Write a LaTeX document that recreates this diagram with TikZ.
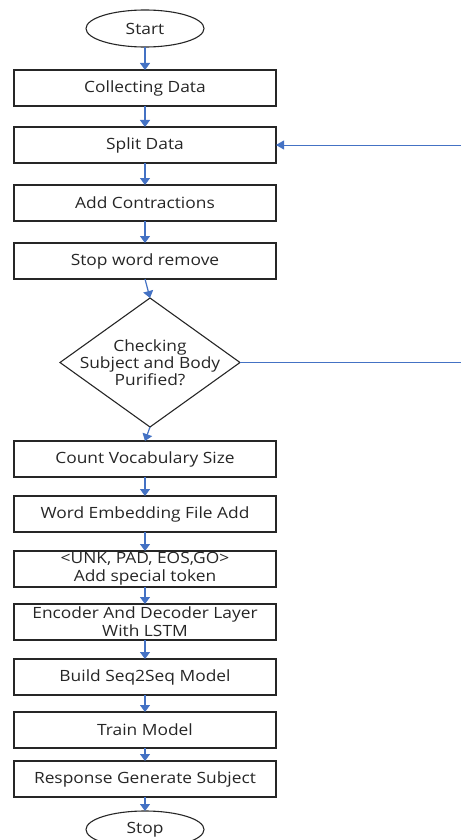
\documentclass[tikz,border=0pt]{standalone}
\usepackage{fontspec}
\setmainfont{Open Sans}[FakeStretch=1.12]
\usetikzlibrary{arrows.meta,positioning,shapes.geometric}
\definecolor{flowblue}{RGB}{68,114,196}

\begin{document}
\begin{tikzpicture}[
    x=1pt, y=1pt,
    node distance=19pt,
    font=\fontsize{15.5}{18}\selectfont,
    box/.style={draw=black!85, line width=1.1pt, text=black!85, align=center, minimum width=262pt, minimum height=36pt, inner sep=1pt, outer sep=0pt},
    term/.style={draw=black!85, line width=1.1pt, text=black!85, ellipse, minimum width=118pt, minimum height=37pt, inner sep=0pt, outer sep=0pt},
    decision/.style={draw=black!85, line width=1.1pt, diamond, minimum width=180pt, minimum height=129pt, inner sep=0pt, outer sep=0pt},
    arrow/.style={flowblue, line width=1.2pt, -{Triangle[width=10pt,length=7pt]}},
    loop/.style={flowblue, line width=0.9pt}
]
\useasboundingbox (0,0) rectangle (461,-840);
\coordinate (edge) at (461,0);

\node[term] (start) at (145,-28.5) {Start};
\node[box, below=23pt of start] (collect) {Collecting Data};
\node[box, below=21pt of collect] (split) {Split Data};
\node[box, below=22pt of split] (contract) {Add Contractions};
\node[box, below=22pt of contract] (stopword) {Stop word remove};
\node[decision, below=19pt of stopword, xshift=5pt,
      label={[align=center, text=black!85, font=\fontsize{15.5}{17}\selectfont]center:Checking\\Subject and Body\\Purified?}] (check) {};
\node[box, below=14pt of check, xshift=-5pt] (vocab) {Count Vocabulary Size};
\node[box, below=of vocab] (embed) {Word Embedding File Add};
\node[box, below=of embed] (token) {<UNK, PAD, EOS,GO>\\Add special token};
\node[box, below=17pt of token] (encdec) {Encoder And Decoder Layer\\With LSTM};
\node[box, below=of encdec] (build) {Build Seq2Seq Model};
\node[box, below=17pt of build] (train) {Train Model};
\node[box, below=13pt of train] (respond) {Response Generate Subject};
\node[term, below=14pt of respond] (stop) {Stop};

\draw[arrow] (start) -- (collect);
\draw[arrow] (collect) -- (split);
\draw[arrow] (split) -- (contract);
\draw[arrow] (contract) -- (stopword);
\draw[arrow] (stopword.south) -- (check.north);
\draw[arrow] (check.south) -- (vocab.north);
\draw[arrow] (vocab) -- (embed);
\draw[arrow] (embed) -- (token);
\draw[arrow] (token) -- (encdec);
\draw[arrow] (encdec) -- (build);
\draw[arrow] (build) -- (train);
\draw[arrow] (train) -- (respond);
\draw[arrow] (respond) -- (stop);

% lines running off to the right
\draw[loop, -{Triangle[width=9pt,length=8pt]}] (split.east -| edge) -- (split.east);
\draw[loop] (check.east) -- (check.east -| edge);
\end{tikzpicture}
\end{document}
